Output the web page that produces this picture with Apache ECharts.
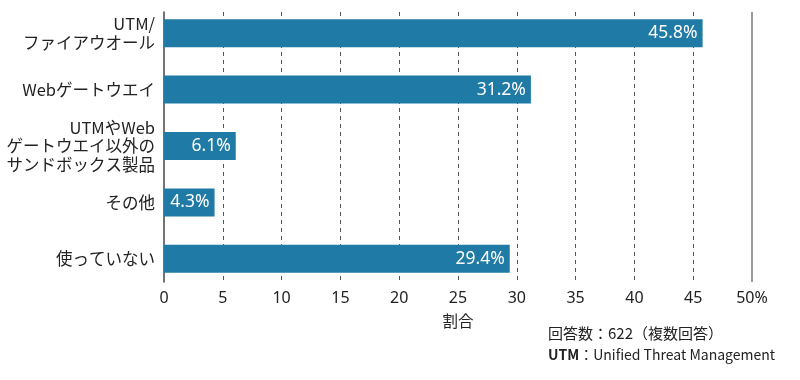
<!DOCTYPE html>
<html>
<head>
<meta charset="utf-8">
<script src="https://cdn.jsdelivr.net/npm/echarts@6/dist/echarts.min.js"></script>
<style>html,body{margin:0;padding:0;background:#fff}#c{width:800px;height:380px}</style>
</head>
<body>
<div id="c"></div>
<script>
const categories = ['UTM/\nファイアウオール', 'Webゲートウエイ', 'UTMやWeb\nゲートウエイ以外の\nサンドボックス製品', 'その他', '使っていない'];
const values = [45.8, 31.2, 6.1, 4.3, 29.4];
const xTicks = [0, 5, 10, 15, 20, 25, 30, 35, 40, 45, 50];
const axisTitle = '割合';
const noteLine1 = '回答数：622（複数回答）';
const noteLine2a = 'UTM';
const noteLine2b = '：Unified Threat Management';

const FONT = '"Noto Sans CJK JP", "Noto Sans", sans-serif';
const L = 164, R = 48;
const chart = echarts.init(document.getElementById('c'), null, {renderer: 'canvas'});
const dashColors = xTicks.map((t, i) => (i === 0 || i === xTicks.length - 1) ? 'rgba(0,0,0,0)' : '#555');
const solidColors = xTicks.map((t, i) => (i === xTicks.length - 1) ? '#999' : 'rgba(0,0,0,0)');
chart.setOption({
  animation: false,
  textStyle: {fontFamily: FONT},
  grid: [
    {left: L, right: R, top: 5, bottom: 93},
    {left: L, right: R, top: 12, bottom: 98}
  ],
  xAxis: [
    {gridIndex: 0, type: 'value', min: 0, max: 50, interval: 5,
     axisLine: {show: false}, axisTick: {show: false}, splitLine: {show: false},
     axisLabel: {color: '#222', fontSize: 16, fontFamily: '"Noto Sans", sans-serif', margin: 3,
       formatter: v => v === 50 ? '50%' : String(v)},
     name: axisTitle, nameLocation: 'middle', nameGap: 26,
     nameTextStyle: {color: '#222', fontSize: 15.5, fontFamily: FONT}},
    {gridIndex: 1, type: 'value', min: 0, max: 50, interval: 5, position: 'bottom',
     axisLine: {show: false}, axisTick: {show: false}, axisLabel: {show: false},
     splitLine: {show: true, lineStyle: {type: [4, 4], width: 1, color: dashColors}}},
    {gridIndex: 1, type: 'value', min: 0, max: 50, interval: 5, position: 'top',
     axisLine: {show: false}, axisTick: {show: false}, axisLabel: {show: false},
     splitLine: {show: true, lineStyle: {type: 'solid', width: 2, color: solidColors}}}
  ],
  yAxis: [
    {gridIndex: 0, type: 'category', data: categories, inverse: true,
     axisLine: {show: false}, axisTick: {show: false}, splitLine: {show: false},
     axisLabel: {color: '#222', fontSize: 16.5, lineHeight: 18.5, fontFamily: FONT, margin: 9, align: 'right'}},
    {gridIndex: 1, type: 'value', min: 0, max: 1,
     axisLine: {show: true, lineStyle: {color: '#444', width: 1.5}},
     axisTick: {show: false}, axisLabel: {show: false}, splitLine: {show: false}}
  ],
  series: [{
    type: 'bar', xAxisIndex: 0, yAxisIndex: 0, data: values, barWidth: 28,
    itemStyle: {color: '#1f7aa5'},
    label: {show: true, position: 'insideRight', distance: 5, color: '#fff', fontSize: 17.5,
      fontFamily: '"Noto Sans", sans-serif', formatter: p => p.value.toFixed(1) + '%'}
  }],
  graphic: [
    {type: 'text', left: 548, top: 326, style: {text: noteLine1, fontSize: 15, fill: '#222', fontFamily: FONT}},
    {type: 'text', left: 548, top: 348, style: {
      text: '{b|' + noteLine2a + '}' + noteLine2b,
      rich: {b: {fontWeight: 'bold', fontSize: 14, fill: '#222', fontFamily: FONT}},
      fontSize: 14, fill: '#222', fontFamily: FONT}}
  ]
});
</script>
</body>
</html>
